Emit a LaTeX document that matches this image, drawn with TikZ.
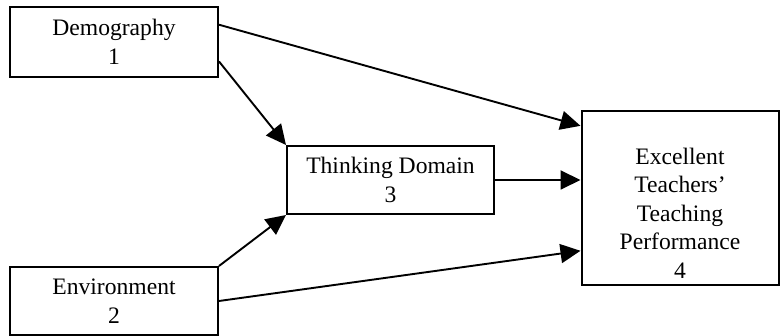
\documentclass[tikz,border=0pt]{standalone}
\usepackage{fontspec}
\setmainfont{Liberation Serif}
\usetikzlibrary{arrows.meta,calc}
\begin{document}
\begin{tikzpicture}[x=1pt,y=-1pt,
  box/.style={draw,line width=2pt,rectangle,align=center,inner sep=0pt,
    font=\fontsize{23.6}{28.5}\selectfont},
  conn/.style={line width=1.9pt,-{Triangle[length=20pt,width=19pt]}}]
\useasboundingbox (0,0) rectangle (780,336);
\node[box,minimum width=208pt,minimum height=70pt] (b1) at (114,42) {Demography\\1};
\node[box,minimum width=208pt,minimum height=68pt] (b2) at (114,301) {Environment\\2};
\node[box,minimum width=207pt,minimum height=68pt] (b3) at (390.5,180) {Thinking Domain\\3};
\node[box,minimum width=197pt,minimum height=174pt] (b4) at (680,198) {};
\node[align=center,inner sep=0pt,font=\fontsize{23.6}{28.5}\selectfont] (b4t) at (680,213) {Excellent\\Teachers’\\Teaching\\Performance\\4};
\coordinate (p1) at ($(b1.north east)!0.26!(b1.south east)$);
\coordinate (q1) at ($(b4.north west)!0.09!(b4.south west)$);
\coordinate (p2) at ($(b1.north east)!0.77!(b1.south east)$);
\coordinate (q3) at ($(b4.north west)!0.8!(b4.south west)$);
\draw[conn] (p1) -- (q1);
\draw[conn] (p2) -- (b3.north west);
\draw[conn] (b2.north east) -- (b3.south west);
\draw[conn] (b2.east) -- (q3);
\draw[conn] (b3.east) -- (b4.west |- b3.east);
\end{tikzpicture}
\end{document}
